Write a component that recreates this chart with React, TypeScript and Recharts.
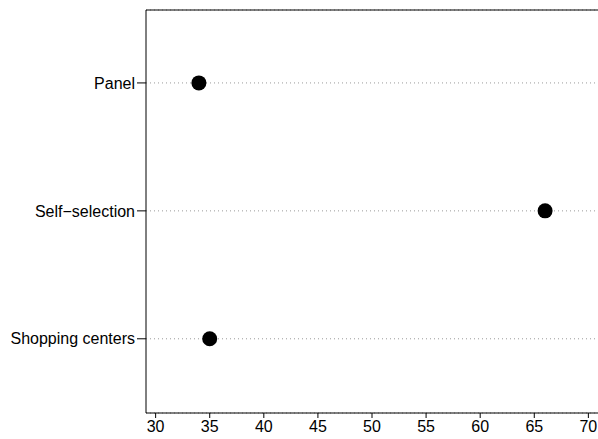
import React from 'react';
import { ScatterChart, Scatter, XAxis, YAxis, CartesianGrid, ReferenceLine } from 'recharts';

const categories = ['Panel', 'Self\u2212selection', 'Shopping centers'];
const values = [34, 66, 35];
const xTicks = [30, 35, 40, 45, 50, 55, 60, 65, 70];

const data = categories.map((name, i) => ({ name, x: values[i], y: i + 1 }));

const Dot = (props: any) => <circle cx={props.cx} cy={props.cy} r={7.5} fill="#000" />;

const tickStyle = { fill: '#000', fontSize: 16, fontFamily: '"Liberation Sans", Arial, sans-serif' };

const App: React.FC = () => {
  return (
    <div style={{ position: 'absolute', left: 0, top: 0, background: '#fff' }}>
      <ScatterChart width={598} height={439} margin={{ top: 10, right: 0, bottom: 0, left: 0 }}>
        <CartesianGrid horizontal vertical={false} stroke="#9a9a9a" strokeDasharray="1 3" />
        <XAxis
          type="number"
          dataKey="x"
          domain={[29.11, 70.89]}
          ticks={xTicks}
          allowDataOverflow
          height={26}
          tickSize={5}
          tickMargin={3}
          tick={tickStyle}
          axisLine={{ stroke: '#000' }}
          tickLine={{ stroke: '#000' }}
        />
        <YAxis
          type="number"
          dataKey="y"
          reversed
          domain={[0.43, 3.58]}
          ticks={[1, 2, 3]}
          allowDataOverflow
          width={146}
          tickSize={9}
          tickMargin={2}
          tickFormatter={(v: number) => categories[v - 1] ?? ''}
          tick={tickStyle}
          axisLine={{ stroke: '#000' }}
          tickLine={{ stroke: '#000' }}
        />
        <ReferenceLine y={0.43} stroke="#000" ifOverflow="visible" />
        <Scatter data={data} shape={Dot} isAnimationActive={false} />
      </ScatterChart>
    </div>
  );
};

export default App;
